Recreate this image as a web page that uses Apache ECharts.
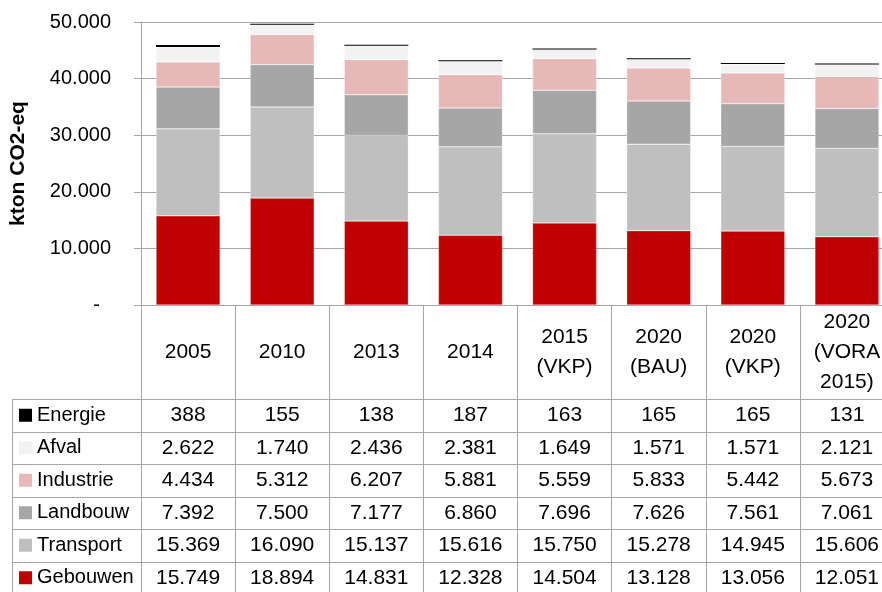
<!DOCTYPE html>
<html>
<head>
<meta charset="utf-8">
<script src="https://cdn.jsdelivr.net/npm/echarts@6/dist/echarts.min.js"></script>
<style>
  html, body { margin: 0; padding: 0; background: #fff; overflow: hidden; }
  /* the reference crops the last column a little, so the canvas runs past the window */
  #chart { width: 894px; height: 592px; }
</style>
</head>
<body>
<div id="chart"></div>
<script>
var categories = ['2005', '2010', '2013', '2014', '2015\n(VKP)', '2020\n(BAU)', '2020\n(VKP)', '2020\n(VORA\n2015)'];

// kton CO2-eq per sector
var gebouwen  = [15749, 18894, 14831, 12328, 14504, 13128, 13056, 12051];
var transport = [15369, 16090, 15137, 15616, 15750, 15278, 14945, 15606];
var landbouw  = [7392, 7500, 7177, 6860, 7696, 7626, 7561, 7061];
var industrie = [4434, 5312, 6207, 5881, 5559, 5833, 5442, 5673];
var afval     = [2622, 1740, 2436, 2381, 1649, 1571, 1571, 2121];
var energie   = [388, 155, 138, 187, 163, 165, 165, 131];

var yTicks = [0, 10000, 20000, 30000, 40000, 50000];

// stacking order bottom -> top
var sectors = [
  { name: 'Gebouwen', data: gebouwen, color: '#c00000' },
  { name: 'Transport', data: transport, color: '#bfbfbf' },
  { name: 'Landbouw', data: landbouw, color: '#a6a6a6' },
  { name: 'Industrie', data: industrie, color: '#e6b9b8' },
  { name: 'Afval', data: afval, color: '#f2f2f2' },
  { name: 'Energie', data: energie, color: '#000000' }
];
// table rows top -> bottom
var tableRows = sectors.slice().reverse();

var font = "'Liberation Sans', Arial, sans-serif";
var fs = 21;
var lineColor = '#a6a6a6';

var chartW = 894;
var gridLeft = 140, gridTop = 22, gridW = 754, gridH = 283;
var headerH = 94, rowH = 32.5, tableLeft = 12;
var tableTop = gridTop + gridH + headerH;

function fmt(v) {
  return String(v).replace(/\B(?=(\d{3})+(?!\d))/g, '.');
}

var myChart = echarts.init(document.getElementById('chart'));

var xAxes = [{
  type: 'category',
  data: categories,
  axisLine: { show: true, lineStyle: { color: lineColor } },
  axisTick: { show: true, interval: 0, length: headerH + rowH * 6 + 5, lineStyle: { color: lineColor } },
  axisLabel: {
    interval: 0,
    margin: headerH / 2,
    verticalAlign: 'middle',
    lineHeight: 30,
    fontSize: fs,
    fontFamily: font,
    color: '#000'
  }
}];

tableRows.forEach(function (row, r) {
  xAxes.push({
    type: 'category',
    data: categories,
    position: 'bottom',
    offset: headerH + rowH * r + rowH / 2,
    axisLine: { show: false },
    axisTick: { show: false },
    splitLine: { show: false },
    axisLabel: {
      interval: 0,
      margin: 0,
      verticalAlign: 'middle',
      fontSize: fs,
      fontFamily: font,
      color: '#000',
      formatter: function (value, index) {
        return fmt(row.data[index]);
      }
    }
  });
});

var graphics = [];
for (var i = 0; i <= 6; i++) {
  var y = Math.round(tableTop + rowH * i) + 0.5;
  graphics.push({
    type: 'line',
    shape: { x1: tableLeft, y1: y, x2: chartW, y2: y },
    style: { stroke: lineColor, lineWidth: 1 }
  });
}
graphics.push({
  type: 'line',
  shape: { x1: tableLeft + 0.5, y1: tableTop, x2: tableLeft + 0.5, y2: 600 },
  style: { stroke: lineColor, lineWidth: 1 }
});
tableRows.forEach(function (row, r) {
  var cy = tableTop + rowH * r + rowH / 2;
  graphics.push({
    type: 'rect',
    shape: { x: 19, y: cy - 6.5, width: 13, height: 13 },
    style: { fill: row.color }
  });
  graphics.push({
    type: 'text',
    x: 37,
    y: cy,
    style: {
      text: row.name,
      fontSize: 20,
      fontFamily: font,
      fill: '#000',
      verticalAlign: 'middle'
    }
  });
});

var option = {
  animation: false,
  backgroundColor: '#fff',
  grid: { left: gridLeft, top: gridTop, width: gridW, height: gridH },
  xAxis: xAxes,
  yAxis: {
    type: 'value',
    min: 0,
    max: yTicks[yTicks.length - 1],
    interval: 10000,
    name: 'kton CO2-eq',
    nameLocation: 'middle',
    nameGap: 112,
    nameTextStyle: { fontSize: 21, fontWeight: 'bold', fontFamily: font, color: '#000' },
    axisLine: { show: true, lineStyle: { color: lineColor } },
    axisTick: { show: true, length: 7, lineStyle: { color: lineColor } },
    splitLine: { show: true, lineStyle: { color: lineColor } },
    axisLabel: {
      margin: 30,
      fontSize: 20,
      fontFamily: font,
      color: '#000',
      formatter: function (v) {
        return v === 0 ? '-  ' : fmt(v);
      }
    }
  },
  series: sectors.map(function (s) {
    return {
      name: s.name,
      type: 'bar',
      stack: 'total',
      data: s.data,
      barCategoryGap: '32%',
      barMinHeight: s.name === 'Energie' ? 1 : 0,
      itemStyle: {
        color: s.color,
        borderColor: s.name === 'Energie' ? s.color : 'rgba(255,255,255,0.6)',
        borderWidth: s.name === 'Energie' ? 0 : 0.5
      }
    };
  }),
  graphic: graphics
};

myChart.setOption(option);
window.addEventListener('resize', myChart.resize);
</script>
</body>
</html>
